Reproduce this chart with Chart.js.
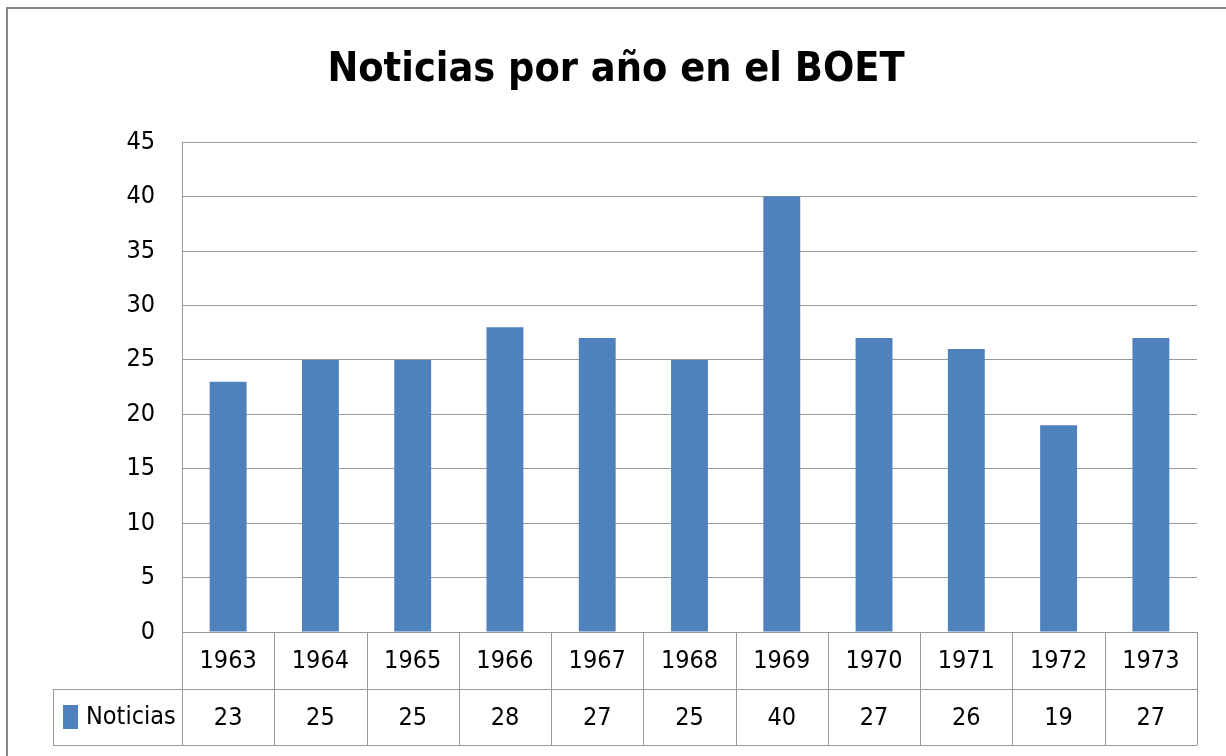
<!DOCTYPE html>
<html>
<head>
<meta charset="utf-8">
<title>Noticias por año en el BOET</title>
<script src="https://cdn.jsdelivr.net/npm/chart.js@4"></script>
<style>
  html, body { margin: 0; padding: 0; background: #fff; }
  #wrap { width: 1226px; height: 756px; }
</style>
</head>
<body>
<div id="wrap"><canvas id="boet" width="1226" height="756"></canvas></div>
<script>
const years = ['1963', '1964', '1965', '1966', '1967', '1968', '1969', '1970', '1971', '1972', '1973'];
const noticias = [23, 25, 25, 28, 27, 25, 40, 27, 26, 19, 27];
const seriesName = 'Noticias';
const yTicks = [0, 5, 10, 15, 20, 25, 30, 35, 40, 45];

const FONT = "'DejaVu Sans Condensed', 'DejaVu Sans', sans-serif";
const LINE = '#999999';
const BAR = '#4F81BD';

// ---------- DATA TABLE UNDER THE AXIS ----------
const dataTablePlugin = {
	id: 'dataTable',
	beforeDraw(chart) {
		const { ctx } = chart;
		ctx.save();
		ctx.strokeStyle = '#858585';
		ctx.lineWidth = 2;
		ctx.strokeRect(7, 8, 1400, 1000);
		ctx.restore();
	},
	afterDraw(chart) {
		const { ctx, chartArea } = chart;
		const x = chart.scales.x;
		const rowH = 57;
		const top = chartArea.bottom;
		const mid = top + rowH;
		const bottom = mid + 56;
		const legendLeft = 53;
		const step = (chartArea.right - chartArea.left) / years.length;

		ctx.save();
		ctx.strokeStyle = LINE;
		ctx.lineWidth = 1;
		ctx.beginPath();
		// horizontal rules
		ctx.moveTo(legendLeft, mid + 0.5);
		ctx.lineTo(chartArea.right, mid + 0.5);
		ctx.moveTo(legendLeft, bottom + 0.5);
		ctx.lineTo(chartArea.right, bottom + 0.5);
		// column rules
		for (let i = 0; i <= years.length; i++) {
			const cx = Math.round(chartArea.left + i * step) + 0.5;
			ctx.moveTo(cx, top);
			ctx.lineTo(cx, bottom + 0.5);
		}
		ctx.moveTo(legendLeft + 0.5, mid);
		ctx.lineTo(legendLeft + 0.5, bottom + 0.5);
		ctx.stroke();

		// legend key + series name
		const rowMid = (mid + bottom) / 2;
		ctx.fillStyle = BAR;
		ctx.fillRect(63, rowMid - 12, 15, 24);
		ctx.fillStyle = '#000';
		ctx.font = `25px ${FONT}`;
		ctx.textBaseline = 'middle';
		ctx.textAlign = 'left';
		ctx.fillText(seriesName, 86, rowMid);

		// values
		ctx.textAlign = 'center';
		noticias.forEach((v, i) => {
			ctx.fillText(String(v), x.getPixelForValue(i), rowMid + 1);
		});
		ctx.restore();
	},
};

new Chart(document.getElementById('boet'), {
	type: 'bar',
	data: {
		labels: years,
		datasets: [
			{
				label: seriesName,
				data: noticias,
				backgroundColor: BAR,
				borderWidth: 0,
				categoryPercentage: 1,
				barPercentage: 0.4,
			},
		],
	},
	options: {
		responsive: false,
		animation: false,
		layout: {
			padding: { left: 35, right: 29, top: 0, bottom: 0 },
		},
		plugins: {
			legend: { display: false },
			tooltip: { enabled: false },
			title: {
				display: true,
				text: 'Noticias por año en el BOET',
				color: '#000',
				font: { family: FONT, size: 41, weight: 'bold', lineHeight: 1.2 },
				padding: { top: 46, bottom: 47 },
			},
		},
		scales: {
			x: {
				afterFit(scale) {
					scale.height = 124;
				},
				grid: { display: false, drawTicks: false },
				border: { display: false },
				ticks: {
					color: '#000',
					padding: 14,
					maxRotation: 0,
					font: { family: FONT, size: 25 },
				},
			},
			y: {
				min: 0,
				max: 45,
				afterFit(scale) {
					scale.width = 147;
				},
				afterBuildTicks(scale) {
					scale.ticks = yTicks.map((v) => ({ value: v }));
				},
				grid: { color: LINE, lineWidth: 1, drawTicks: false },
				border: { display: true, color: LINE, width: 1 },
				ticks: {
					color: '#000',
					padding: 27,
					font: { family: FONT, size: 25 },
				},
			},
		},
	},
	plugins: [dataTablePlugin],
});
</script>
</body>
</html>
